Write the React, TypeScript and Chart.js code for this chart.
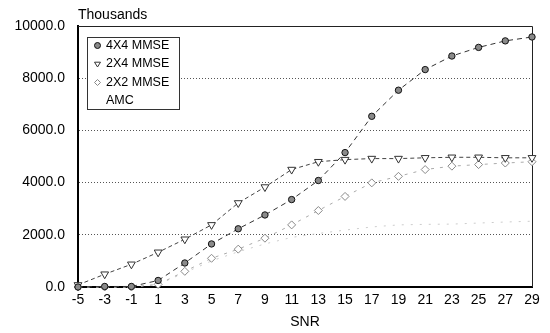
import React, { useEffect, useRef } from "react";
import { Chart, registerables } from "chart.js";

Chart.register(...registerables);

const snr = ["-5", "-3", "-1", "1", "3", "5", "7", "9", "11", "13", "15", "17", "19", "21", "23", "25", "27", "29"];
const series4x4 = [0, 20, 20, 250, 920, 1650, 2230, 2760, 3350, 4080, 5150, 6540, 7540, 8330, 8850, 9180, 9430, 9580];
const series2x4 = [80, 490, 870, 1330, 1830, 2380, 3220, 3830, 4500, 4800, 4880, 4920, 4920, 4950, 4970, 4970, 4950, 4950];
const series2x2 = [0, 0, 0, 100, 600, 1100, 1450, 1870, 2380, 2930, 3470, 3990, 4240, 4500, 4630, 4690, 4750, 4800];
const seriesAmc = [0, 0, 0, 100, 550, 1000, 1350, 1650, 1900, 2050, 2180, 2300, 2380, 2400, 2410, 2450, 2490, 2520];
const names = ["4X4 MMSE", "2X4 MMSE", "2X2 MMSE", "AMC"];
const yMin = 0;
const yMax = 10000;
const yStep = 2000;
const yUnitLabel = "Thousands";
const xTitle = "SNR";

const FONT = "'Liberation Sans', Arial, sans-serif";

function drawMarker(ctx: CanvasRenderingContext2D, style: string, x: number, y: number, r: number, fill: string, stroke: string) {
  ctx.save();
  ctx.fillStyle = fill;
  ctx.strokeStyle = stroke;
  ctx.lineWidth = 1;
  ctx.setLineDash([]);
  ctx.beginPath();
  if (style === "circle") {
    ctx.arc(x, y, r, 0, Math.PI * 2);
  } else if (style === "triangleDown") {
    ctx.moveTo(x - r, y - r * 0.6);
    ctx.lineTo(x + r, y - r * 0.6);
    ctx.lineTo(x, y + r);
    ctx.closePath();
  } else if (style === "rectRot") {
    ctx.moveTo(x, y - r);
    ctx.lineTo(x + r, y);
    ctx.lineTo(x, y + r);
    ctx.lineTo(x - r, y);
    ctx.closePath();
  } else {
    ctx.restore();
    return;
  }
  ctx.fill();
  ctx.stroke();
  ctx.restore();
}

const framePlugin = {
  id: "framePlugin",
  beforeDatasetsDraw(chart: any) {
    const { ctx, chartArea } = chart;
    ctx.save();
    ctx.strokeStyle = "#222";
    ctx.lineWidth = 1;
    ctx.beginPath();
    ctx.moveTo(chartArea.left, chartArea.top + 0.5);
    ctx.lineTo(chartArea.right + 0.5, chartArea.top + 0.5);
    ctx.lineTo(chartArea.right + 0.5, chartArea.bottom);
    ctx.stroke();
    ctx.restore();
  },
  afterDraw(chart: any) {
    const { ctx, chartArea } = chart;
    ctx.save();
    ctx.font = `14px ${FONT}`;
    ctx.fillStyle = "#000";
    ctx.textAlign = "left";
    ctx.textBaseline = "middle";
    ctx.fillText(yUnitLabel, chartArea.left, 15);
    const bx = chartArea.left + 9.5;
    const by = chartArea.top + 11.5;
    const bw = 92;
    const bh = 72;
    ctx.fillStyle = "#fff";
    ctx.fillRect(bx, by, bw, bh);
    ctx.strokeStyle = "#333";
    ctx.lineWidth = 1;
    ctx.strokeRect(bx, by, bw, bh);
    const styles = ["circle", "triangleDown", "rectRot", "none"];
    chart.data.datasets.forEach((ds: any, i: number) => {
      const y = by + 8 + i * 18.5;
      drawMarker(ctx, styles[i], bx + 10, y, 3, ds.pointBackgroundColor, ds.pointBorderColor);
      ctx.font = `12.5px ${FONT}`;
      ctx.fillStyle = "#000";
      ctx.textAlign = "left";
      ctx.textBaseline = "middle";
      ctx.fillText(ds.label, bx + 18.5, y);
    });
    ctx.restore();
  },
};

export default function App() {
  const ref = useRef<HTMLCanvasElement | null>(null);
  useEffect(() => {
    document.body.style.margin = "0";
    const canvas = ref.current;
    if (!canvas) return;
    const chart = new Chart(canvas, {
      type: "line",
      data: {
        labels: snr,
        datasets: [
          {
            label: names[0],
            data: series4x4,
            borderColor: "#333",
            borderWidth: 1,
            borderDash: [5, 4],
            pointStyle: "circle",
            pointRadius: 3.2,
            pointBackgroundColor: "#8a8a8a",
            pointBorderColor: "#111",
            pointBorderWidth: 1,
            clip: false,
          },
          {
            label: names[1],
            data: series2x4,
            borderColor: "#444",
            borderWidth: 1,
            borderDash: [4, 3],
            pointStyle: "triangle",
            pointRotation: 180,
            pointRadius: 4.5,
            pointBackgroundColor: "#fff",
            pointBorderColor: "#333",
            pointBorderWidth: 1,
            clip: false,
          },
          {
            label: names[2],
            data: series2x2,
            borderColor: "#aaa",
            borderWidth: 1,
            borderDash: [3, 6],
            pointStyle: "rectRot",
            pointRadius: 4,
            pointBackgroundColor: "#fff",
            pointBorderColor: "#888",
            pointBorderWidth: 1,
            clip: false,
          },
          {
            label: names[3],
            data: seriesAmc,
            borderColor: "#ccc",
            borderWidth: 1,
            borderDash: [2, 7],
            pointRadius: 0,
            pointBackgroundColor: "#fff",
            pointBorderColor: "#ccc",
            clip: false,
          },
        ],
      },
      options: {
        responsive: false,
        animation: false,
        events: [],
        layout: { padding: { left: 0, right: 18, top: 26, bottom: 0 } },
        plugins: {
          legend: { display: false },
          tooltip: { enabled: false },
        },
        scales: {
          x: {
            type: "category",
            offset: false,
            grid: { color: "rgba(0,0,0,0)", drawTicks: false },
            border: { display: true, color: "#000", width: 2 },
            ticks: {
              padding: 5,
              color: "#000",
              font: { family: FONT, size: 14 },
              maxRotation: 0,
              autoSkip: false,
            },
            title: {
              display: true,
              text: xTitle,
              color: "#000",
              font: { family: FONT, size: 14 },
              padding: { top: 0, bottom: 2 },
            },
            afterFit(scale: any) {
              scale.height = 46;
            },
          },
          y: {
            type: "linear",
            min: yMin,
            max: yMax,
            grid: {
              drawTicks: false,
              lineWidth: 1,
              color: (c: any) => (c.tick && (c.tick.value === yMin || c.tick.value === yMax) ? "rgba(0,0,0,0)" : "#555"),
            },
            border: { display: true, color: "#000", width: 2, dash: [1, 2] },
            ticks: {
              stepSize: yStep,
              padding: 13,
              color: "#000",
              font: { family: FONT, size: 14 },
              callback: (v: any) => Number(v).toFixed(1),
            },
            afterFit(scale: any) {
              scale.width = 78;
            },
          },
        },
      },
      plugins: [framePlugin],
    } as any);
    return () => chart.destroy();
  }, []);
  return (
    <div style={{ width: 550, height: 333 }}>
      <canvas ref={ref} width={550} height={333} style={{ display: "block" }} />
    </div>
  );
}
